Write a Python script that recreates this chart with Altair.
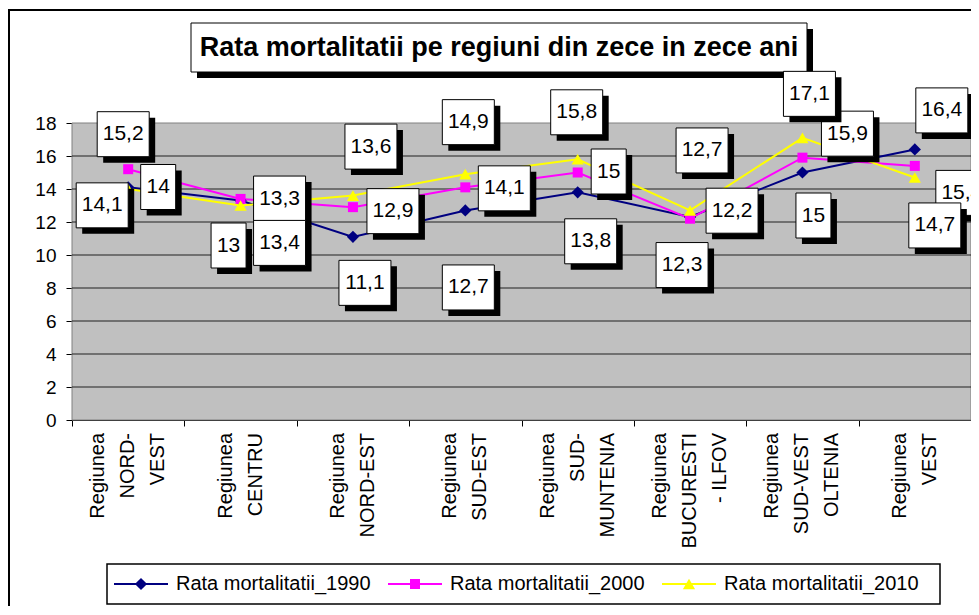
import altair as alt
import pandas as pd

# ---------------- data ----------------
regions = ["Regiunea|NORD-|VEST", "Regiunea|CENTRU", "Regiunea|NORD-EST", "Regiunea|SUD-EST",
           "Regiunea|SUD-|MUNTENIA", "Regiunea|BUCURESTI|- ILFOV", "Regiunea|SUD-VEST|OLTENIA",
           "Regiunea|VEST"]
series_names = ["Rata mortalitatii_1990", "Rata mortalitatii_2000", "Rata mortalitatii_2010"]
rate_1990 = [14.1, 13.3, 11.1, 12.7, 13.8, 12.3, 15.0, 16.4]
rate_2000 = [15.2, 13.4, 12.9, 14.1, 15.0, 12.2, 15.9, 15.4]
rate_2010 = [14.0, 13.0, 13.6, 14.9, 15.8, 12.7, 17.1, 14.7]
y_ticks = [0, 2, 4, 6, 8, 10, 12, 14, 16, 18]
title_text = "Rata mortalitatii pe regiuni din zece in zece ani"

# ---------------- style / layout (pixels) ----------------
FONT = "Arial, Liberation Sans"
W, H = 899, 297
PX, PY = W / 8.0, H / 18.0
colors = ["#000080", "#FF00FF", "#FFFF00"]
shapes = ["diamond", "square", "triangle-up"]
sizes = [150, 100, 150]
# data-label box placement, pixel offsets from each point (as in the source chart)
label_dx = [[-26, 39, 12, 3, 13, -8, 11, 27],
            [-5, 39, 40, 39, 31, 42, 45, 47],
            [30, -12, 18, 3, -1, 12, 7, 20]]
label_dy = [[18, -2, 46, 77, 49, 48, 43, -39],
            [-35, 44, 4, 1, -1, -8, -24, 27],
            [-2, 40, -49, -52, -47, -60, -44, 48]]
BOX_H = 45
SHADOW = 6

values = [rate_1990, rate_2000, rate_2010]
rows = []
for s, name in enumerate(series_names):
    for i, reg in enumerate(regions):
        v = values[s][i]
        txt = f"{v:g}".replace(".", ",")
        bw = 35 if len(txt) <= 2 else 52
        xc = i + label_dx[s][i] / PX
        yc = v - label_dy[s][i] / PY
        rows.append(dict(region=reg, idx=i, series=name, value=v, text=txt,
                         xc=xc, yc=yc,
                         x1=xc - bw / 2 / PX, x2=xc + bw / 2 / PX,
                         y1=yc - BOX_H / 2 / PY, y2=yc + BOX_H / 2 / PY,
                         sx1=xc - bw / 2 / PX + SHADOW / PX, sx2=xc + bw / 2 / PX + SHADOW / PX,
                         sy1=yc - BOX_H / 2 / PY - SHADOW / PY, sy2=yc + BOX_H / 2 / PY - SHADOW / PY))
df = pd.DataFrame(rows)
grid_df = pd.DataFrame({"t": [t for t in y_ticks if 0 < t < 18]})
cat_df = pd.DataFrame({"region": regions, "nlines": [r.count("|") + 1 for r in regions]})

yscale = alt.Scale(domain=[0, 18], nice=False)
yaxis = alt.Axis(values=y_ticks, title=None, labelFontSize=19, labelFont=FONT,
                 labelColor="black", tickSize=6, tickColor="black", domainColor="black",
                 labelPadding=10, grid=False, labelOverlap=False)
qx = alt.Scale(domain=[-0.5, 7.5], nice=False, zero=False)
band = alt.Scale(type="band", domain=regions, paddingInner=0, paddingOuter=0)
# category boundaries for the x-axis tick marks
boundaries = [i - 0.5 for i in range(len(regions) + 1)]
qaxis = alt.Axis(values=boundaries, labels=False, tickSize=6, tickColor="black",
                 domainColor="black", grid=False, title=None, orient="bottom")

one = alt.Data(values=[{}])

# decorations
outer = alt.Chart(one).mark_rect(fillOpacity=0, stroke="black", strokeWidth=2).encode(
    x=alt.value(-63), x2=alt.value(1200), y=alt.value(-113), y2=alt.value(800))
plot_bg = alt.Chart(one).mark_rect(fill="#C0C0C0", stroke="#808080", strokeWidth=1).encode(
    x=alt.value(0), x2=alt.value(W), y=alt.value(0), y2=alt.value(H))
title_shadow = alt.Chart(one).mark_rect(fill="black").encode(
    x=alt.value(125), x2=alt.value(741), y=alt.value(-94), y2=alt.value(-45))
title_box = alt.Chart(one).mark_rect(fill="white", stroke="black", strokeWidth=1).encode(
    x=alt.value(119), x2=alt.value(735), y=alt.value(-100), y2=alt.value(-51))
title_lbl = alt.Chart(one).mark_text(text=title_text, font=FONT, fontSize=27, fontWeight="bold",
                                     align="center", baseline="middle", color="black").encode(
    x=alt.value(427), y=alt.value(-75))

grid = alt.Chart(grid_df).mark_rule(color="#202020", strokeWidth=1).encode(
    y=alt.Y("t:Q", scale=yscale, axis=yaxis), x=alt.value(0), x2=alt.value(W))

lines = alt.Chart(df).mark_line(strokeWidth=2).encode(
    x=alt.X("region:N", sort=regions, scale=band, axis=None),
    y=alt.Y("value:Q", scale=yscale, axis=yaxis),
    color=alt.Color("series:N", scale=alt.Scale(domain=series_names, range=colors), legend=None),
    detail="series:N")

layers = [outer, plot_bg, title_shadow, title_box, title_lbl, grid, lines]

# category labels (rotated, multi-line), centred on each band
for n in (2, 3):
    layers.append(alt.Chart(cat_df).transform_filter(alt.datum.nlines == n).mark_text(
        angle=270, align="right", baseline="middle", font=FONT, fontSize=20, lineBreak="|",
        lineHeight=30, color="black", dy=-(n - 1) * 15).encode(
        x=alt.X("region:N", sort=regions, scale=band, axis=None),
        y=alt.value(H + 13),
        text="region:N"))

for s, name in enumerate(series_names):
    layers.append(alt.Chart(df).transform_filter(alt.datum.series == name).mark_point(
        shape=shapes[s], size=sizes[s], filled=True, color=colors[s], opacity=1).encode(
        x=alt.X("region:N", sort=regions, scale=band, axis=None),
        y=alt.Y("value:Q", scale=yscale, axis=yaxis)))

for s, name in enumerate(series_names):
    base = alt.Chart(df).transform_filter(alt.datum.series == name)
    layers.append(base.mark_rect(fill="black").encode(
        x=alt.X("sx1:Q", scale=qx, axis=qaxis if s == 0 else None), x2="sx2",
        y=alt.Y("sy1:Q", scale=yscale, axis=yaxis), y2="sy2"))
    layers.append(base.mark_rect(fill="white", stroke="black", strokeWidth=1).encode(
        x=alt.X("x1:Q", scale=qx, axis=None), x2="x2",
        y=alt.Y("y1:Q", scale=yscale, axis=yaxis), y2="y2"))
    layers.append(base.mark_text(font=FONT, fontSize=21, color="black", align="center",
                                 baseline="middle").encode(
        x=alt.X("xc:Q", scale=qx, axis=None),
        y=alt.Y("yc:Q", scale=yscale, axis=yaxis),
        text="text:N"))

# legend box
LEG_X, LEG_Y, LEG_W, LEG_H, LEG_STEP = 35, 441, 833, 40, 274
layers.append(alt.Chart(one).mark_rect(fill="white", stroke="black", strokeWidth=1.5).encode(
    x=alt.value(LEG_X), x2=alt.value(LEG_X + LEG_W), y=alt.value(LEG_Y), y2=alt.value(LEG_Y + LEG_H)))
for s, name in enumerate(series_names):
    x0 = LEG_X + 7 + s * LEG_STEP
    yc = LEG_Y + LEG_H / 2
    layers.append(alt.Chart(one).mark_rule(color=colors[s], strokeWidth=2).encode(
        x=alt.value(x0), x2=alt.value(x0 + 54), y=alt.value(yc)))
    layers.append(alt.Chart(one).mark_point(shape=shapes[s], size=sizes[s], filled=True,
                                            color=colors[s], opacity=1).encode(
        x=alt.value(x0 + 27), y=alt.value(yc)))
    layers.append(alt.Chart(one).mark_text(text=name, font=FONT, fontSize=20, color="black",
                                           align="left", baseline="middle").encode(
        x=alt.value(x0 + 62), y=alt.value(yc)))

chart = alt.layer(*layers).resolve_scale(x="independent").properties(
    width=W, height=H,
    autosize=alt.AutoSizeParams(type="none"),
    padding={"left": 64, "top": 115, "right": 0, "bottom": 186},
    background="white",
).configure_view(strokeWidth=0)

chart.save("out.html", embed_options={"renderer": "svg", "actions": False})
